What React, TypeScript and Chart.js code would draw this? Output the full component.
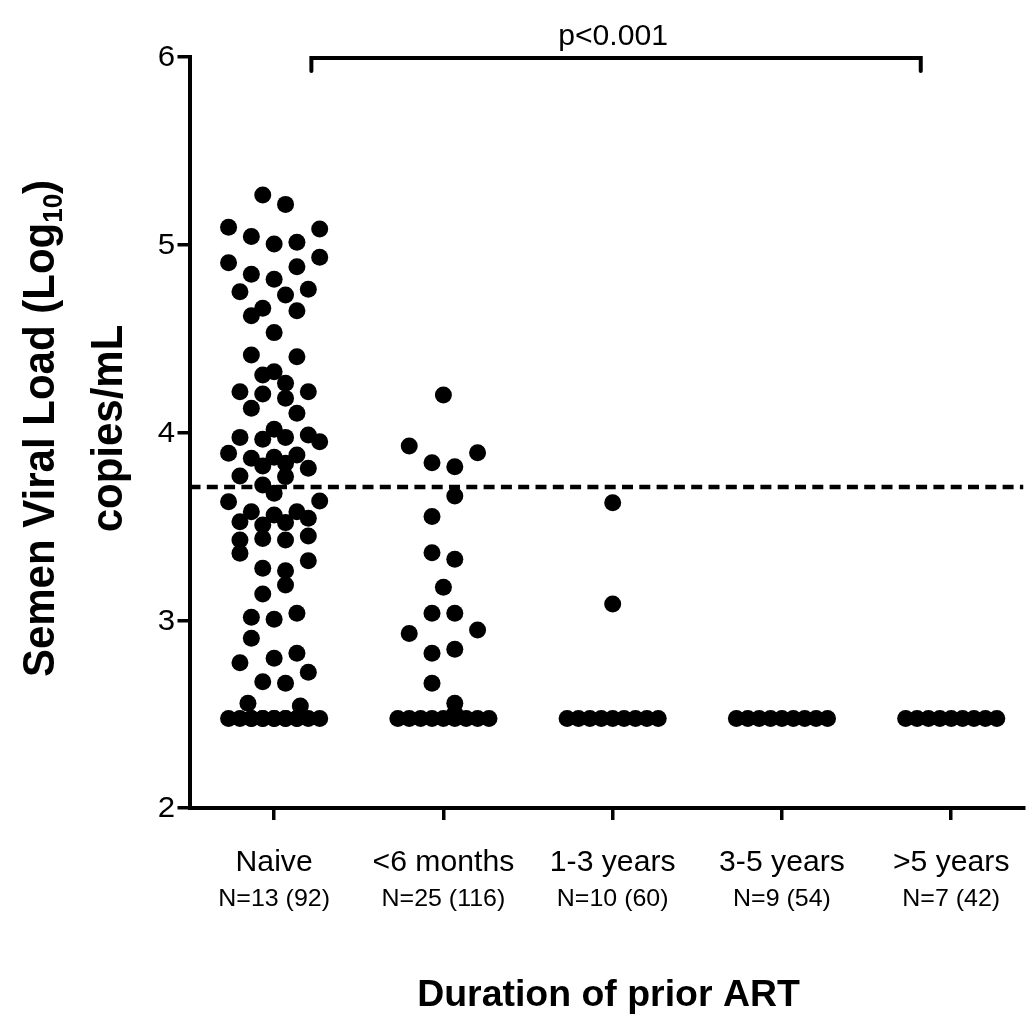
import React, { useEffect, useRef } from "react";
import { Chart, registerables } from "chart.js";

Chart.register(...registerables);

// ---- data ----
const categories = ["Naive", "<6 months", "1-3 years", "3-5 years", ">5 years"];
const groupSizes = ["N=13 (92)", "N=25 (116)", "N=10 (60)", "N=9 (54)", "N=7 (42)"];
const yTicks = [2, 3, 4, 5, 6];
const thresholdValue = 3.71;
const detectionLimit = 2.477;
const pLabel = "p<0.001";
const bracketStart = 1.22;
const bracketEnd = 4.82;

// [swarm slot, log10 value]
const naivePoints: number[][] = [
  [-1, 5.265], [1, 5.215], [-4, 5.093], [-2, 5.044], [0, 5.004], [2, 5.013], [4, 5.084],
  [-4, 4.904], [2, 4.883], [4, 4.933], [-2, 4.843], [0, 4.816], [-3, 4.75], [1, 4.732],
  [3, 4.763], [-1, 4.662], [-2, 4.622], [2, 4.649], [0, 4.532],
  [-2, 4.413], [2, 4.404], [-1, 4.306], [0, 4.324], [1, 4.262], [-3, 4.217], [-1, 4.205],
  [1, 4.182], [3, 4.217], [-2, 4.129], [2, 4.102], [0, 4.017], [-3, 3.974], [-1, 3.964],
  [1, 3.974], [3, 3.987], [4, 3.951], [-4, 3.889], [-2, 3.863], [0, 3.868], [2, 3.88],
  [-1, 3.822], [1, 3.836], [3, 3.809], [-3, 3.768], [1, 3.765], [-1, 3.72], [0, 3.676],
  [-4, 3.631], [4, 3.635], [-2, 3.578], [0, 3.561], [2, 3.578], [-3, 3.525], [-1, 3.507],
  [1, 3.52], [3, 3.543], [-3, 3.427], [-1, 3.436], [1, 3.427], [3, 3.449],
  [-3, 3.357], [-1, 3.277], [1, 3.264], [3, 3.317], [1, 3.188], [-1, 3.14], [-2, 3.016],
  [0, 3.005], [2, 3.037], [-2, 2.904], [-3, 2.774], [0, 2.797], [2, 2.824], [-1, 2.673],
  [1, 2.664], [3, 2.723], [-2.3, 2.558], [2.3, 2.543],
];
const under6mPoints: number[][] = [
  [0, 4.2], [-3, 3.928], [-1, 3.839], [1, 3.818], [3, 3.892], [1, 3.662], [-1, 3.552],
  [-1, 3.36], [1, 3.325], [0, 3.176], [-1, 3.037], [1, 3.037], [-3, 2.93], [3, 2.948],
  [-1, 2.824], [1, 2.845], [-1, 2.664], [1, 2.558], [1, 2.504],
];
const y1to3Points: number[][] = [[0, 3.626], [0, 3.087]];
const y3to5Points: number[][] = [];
const over5Points: number[][] = [];
// slots of the samples sitting at the detection limit
const naiveBelowLimit = [-4, -3, -2, -1, 0, 1, 2, 3, 4, -1, 1, 2, -2, 0];
const under6mBelowLimit = [-4, -3, -2, -1, 0, 1, 2, 3, 4];
const y1to3BelowLimit = [-4, -3, -2, -1, 0, 1, 2, 3, 4];
const y3to5BelowLimit = [-4, -3, -2, -1, 0, 1, 2, 3, 4];
const over5BelowLimit = [-4, -3, -2, -1, 0, 1, 2, 3, 4];

const groupPoints = [naivePoints, under6mPoints, y1to3Points, y3to5Points, over5Points];
const groupBelow = [naiveBelowLimit, under6mBelowLimit, y1to3BelowLimit, y3to5BelowLimit, over5BelowLimit];

const SLOT = 0.0673;
const X_MIN = 0.5;
const X_MAX = 5.427;
const STRETCH = 1.04;
const FONT = "'Liberation Sans', Arial, Helvetica, sans-serif";

function drawText(ctx: CanvasRenderingContext2D, text: string, x: number, y: number, font: string, align: CanvasTextAlign, baseline: CanvasTextBaseline = "alphabetic") {
  ctx.save();
  ctx.translate(x, y);
  ctx.scale(STRETCH, 1);
  ctx.font = font;
  ctx.textAlign = align;
  ctx.textBaseline = baseline;
  ctx.fillText(text, 0, 0);
  ctx.restore();
}

const textPlugin = {
  id: "textPlugin",
  afterDraw(chart: any) {
    const { ctx, scales, chartArea } = chart;
    const xs = scales.x;
    const ys = scales.y;
    ctx.save();
    ctx.fillStyle = "#000";
    ctx.strokeStyle = "#000";

    // y tick labels
    yTicks.forEach((t) => {
      drawText(ctx, String(t), 175, ys.getPixelForValue(t) + 1, `30px ${FONT}`, "right", "middle");
    });

    // category labels
    categories.forEach((c, i) => {
      const px = xs.getPixelForValue(i + 1);
      drawText(ctx, c, px, 871, `29px ${FONT}`, "center");
      drawText(ctx, groupSizes[i], px, 906, `24px ${FONT}`, "center");
    });

    // x title
    drawText(ctx, "Duration of prior ART", (chartArea.left + chartArea.right) / 2 + 2, 1006, `bold 36px ${FONT}`, "center");

    // bracket
    const bx1 = xs.getPixelForValue(bracketStart);
    const bx2 = xs.getPixelForValue(bracketEnd);
    const by = ys.getPixelForValue(6) + 1;
    ctx.lineWidth = 4;
    ctx.lineCap = "round";
    ctx.lineJoin = "miter";
    ctx.beginPath();
    ctx.moveTo(bx1, by + 13);
    ctx.lineTo(bx1, by);
    ctx.lineTo(bx2, by);
    ctx.lineTo(bx2, by + 13);
    ctx.stroke();
    drawText(ctx, pLabel, (bx1 + bx2) / 2 - 3, 45, `29px ${FONT}`, "center");

    // y title (rotated, two lines)
    const cy = (chartArea.top + chartArea.bottom) / 2 - 4;
    const big = `bold 42px ${FONT}`;
    const sub = `bold 26px ${FONT}`;
    ctx.save();
    ctx.translate(54, cy);
    ctx.scale(STRETCH, 1);
    ctx.rotate(-Math.PI / 2);
    ctx.textBaseline = "alphabetic";
    ctx.textAlign = "left";
    ctx.font = big;
    const p1 = "Semen Viral Load (Log";
    const w1 = ctx.measureText(p1).width;
    ctx.font = sub;
    const w2 = ctx.measureText("10").width;
    ctx.font = big;
    const w3 = ctx.measureText(")").width;
    let sx = -(w1 + w2 + w3) / 2;
    ctx.font = big;
    ctx.fillText(p1, sx, 0);
    sx += w1;
    ctx.font = sub;
    ctx.fillText("10", sx, 8);
    sx += w2;
    ctx.font = big;
    ctx.fillText(")", sx, 0);
    ctx.restore();

    ctx.save();
    ctx.translate(122, cy);
    ctx.scale(STRETCH, 1);
    ctx.rotate(-Math.PI / 2);
    ctx.textBaseline = "alphabetic";
    ctx.textAlign = "center";
    ctx.font = big;
    ctx.fillText("copies/mL", 0, 0);
    ctx.restore();

    ctx.restore();
  },
};

export default function App() {
  const ref = useRef<HTMLCanvasElement | null>(null);
  useEffect(() => {
    document.body.style.margin = "0";
    const canvas = ref.current;
    if (!canvas) return;
    const datasets: any[] = groupPoints.map((pts, i) => {
      const data = pts.map(([s, v]) => ({ x: i + 1 + s * SLOT, y: v }));
      groupBelow[i].forEach((s) => data.push({ x: i + 1 + s * SLOT, y: detectionLimit }));
      return {
        type: "scatter",
        label: categories[i],
        data,
        backgroundColor: "#000",
        borderWidth: 0,
        pointRadius: 8.5,
        clip: false,
      };
    });
    datasets.push({
      type: "line",
      label: "threshold",
      data: [
        { x: X_MIN, y: thresholdValue },
        { x: X_MAX, y: thresholdValue },
      ],
      borderColor: "#000",
      borderWidth: 4.5,
      borderDash: [11, 6.3],
      pointRadius: 0,
      showLine: true,
      fill: false,
    });
    const chart = new Chart(canvas, {
      type: "scatter",
      data: { datasets },
      options: {
        animation: false,
        responsive: false,
        maintainAspectRatio: false,
        layout: { padding: { top: 57, left: 0, right: 0, bottom: 0 } },
        plugins: { legend: { display: false }, tooltip: { enabled: false } },
        scales: {
          x: {
            type: "linear",
            min: X_MIN,
            max: X_MAX,
            afterFit: (s: any) => {
              s.height = 213;
            },
            ticks: { display: false, stepSize: 1, includeBounds: false },
            grid: { drawOnChartArea: false, drawTicks: true, tickLength: 12, color: "#000", lineWidth: 3.5 },
            border: { display: true, width: 4, color: "#000" },
          },
          y: {
            type: "linear",
            min: 2,
            max: 6,
            afterFit: (s: any) => {
              s.width = 189.5;
            },
            ticks: { display: false, stepSize: 1 },
            grid: { drawOnChartArea: false, drawTicks: true, tickLength: 12, color: "#000", lineWidth: 3.5 },
            border: { display: true, width: 4, color: "#000" },
          },
        },
      },
      plugins: [textPlugin],
    } as any);
    return () => chart.destroy();
  }, []);
  return (
    <canvas ref={ref} width={1032} height={1021} style={{ display: "block", width: 1032, height: 1021 }} />
  );
}
